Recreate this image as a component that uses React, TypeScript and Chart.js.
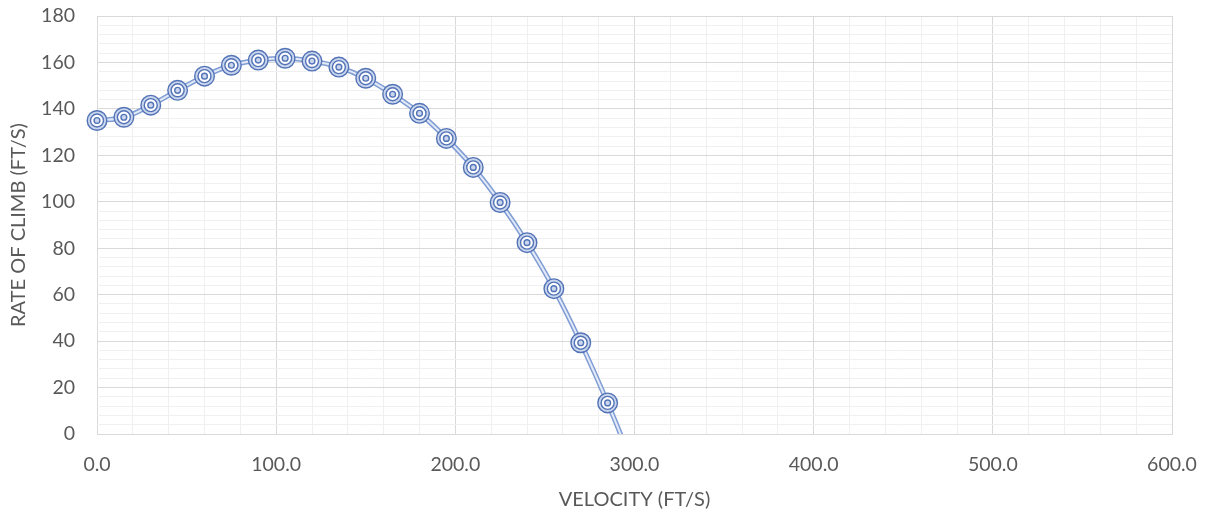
import React, { useEffect, useRef } from "react";
import { Chart, registerables } from "chart.js";

Chart.register(...registerables);

const velocity = [0, 15, 30, 45, 60, 75, 90, 105, 120, 135, 150, 165, 180, 195, 210, 225, 240, 255, 270, 285, 300];
const rateOfClimb = [135, 136.4, 141.6, 148, 154.1, 158.8, 161, 161.8, 160.6, 158, 153.2, 146.3, 138.1, 127.3, 114.8, 99.7, 82.4, 62.6, 39.3, 13.4, -15];

const xTitle = "VELOCITY (FT/S)";
const yTitle = "RATE OF CLIMB (FT/S)";
const xMin = 0, xMax = 600, xMinorStep = 20, xMajorStep = 100;
const yMin = 0, yMax = 180, yMinorStep = 4, yMajorStep = 20;

const TEXT = "#595959";
const FONT = "Lato, 'Liberation Sans', sans-serif";
const DARK = "#5373b6";

export default function App() {
  const ref = useRef<HTMLCanvasElement | null>(null);
  useEffect(() => {
    if (!ref.current) return;
    const pts = velocity.map((x, i) => ({ x, y: rateOfClimb[i] }));
    const isMajor = (v: number, step: number) => Math.abs(v / step - Math.round(v / step)) < 1e-6;
    const pClip = { left: 15, top: 15, right: 0, bottom: 0 };
    const chart = new Chart(ref.current, {
      type: "scatter",
      data: {
        datasets: [
          { data: pts, showLine: true, tension: 0.4, borderColor: "#7f9cd4", borderWidth: 5, pointRadius: 0, order: 5 },
          { data: pts, showLine: true, tension: 0.4, borderColor: "#e3eaf7", borderWidth: 2, pointRadius: 0, order: 4 },
          { data: pts, showLine: false, clip: pClip, pointRadius: 9.8, pointBorderWidth: 1.4, pointBorderColor: DARK, pointBackgroundColor: "#c9d6ee", order: 3 },
          { data: pts, showLine: false, clip: pClip, pointRadius: 6.5, pointBorderWidth: 1.4, pointBorderColor: DARK, pointBackgroundColor: "#ffffff", order: 2 },
          { data: pts, showLine: false, clip: pClip, pointRadius: 2.9, pointBorderWidth: 1.4, pointBorderColor: DARK, pointBackgroundColor: "#c9d6ee", order: 1 },
        ],
      },
      options: {
        responsive: false,
        animation: false,
        layout: { padding: { top: 16, right: 36, left: 0, bottom: 0 } },
        plugins: { legend: { display: false }, tooltip: { enabled: false } },
        scales: {
          x: {
            type: "linear",
            min: xMin,
            max: xMax,
            afterFit: (s: any) => { s.height = 83; },
            border: { color: "#d9d9d9", width: 1 },
            grid: {
              drawTicks: true,
              tickLength: 17,
              tickColor: "rgba(0,0,0,0)",
              color: (c: any) => (isMajor(c.tick.value, xMajorStep) ? "#d9d9d9" : "#f0f0f0"),
              lineWidth: 1,
            },
            ticks: {
              stepSize: xMinorStep,
              autoSkip: false,
              maxRotation: 0,
              padding: 2,
              color: TEXT,
              font: { family: FONT, size: 19.5 },
              callback: (v: any) => (isMajor(Number(v), xMajorStep) ? Number(v).toFixed(1) : ""),
            },
            title: { display: true, text: xTitle, color: TEXT, font: { family: FONT, size: 20 }, padding: { top: 0, bottom: 5 } },
          },
          y: {
            type: "linear",
            min: yMin,
            max: yMax,
            afterFit: (s: any) => { s.width = 97; },
            border: { display: false },
            grid: {
              drawTicks: true,
              tickLength: 20,
              tickColor: "rgba(0,0,0,0)",
              color: (c: any) => (isMajor(c.tick.value, yMajorStep) ? "#d9d9d9" : "#f0f0f0"),
              lineWidth: 1,
            },
            ticks: {
              stepSize: yMinorStep,
              autoSkip: false,
              maxTicksLimit: 100,
              padding: 2,
              color: TEXT,
              font: { family: FONT, size: 19.5 },
              callback: (v: any) => (isMajor(Number(v), yMajorStep) ? String(v) : ""),
            },
            title: { display: true, text: yTitle, color: TEXT, font: { family: FONT, size: 20 }, padding: { top: 7, bottom: 0 } },
          },
        },
      },
    } as any);
    return () => chart.destroy();
  }, []);
  return (
    <div style={{ position: "fixed", left: 0, top: 0, width: 1208, height: 517, background: "#fff" }}>
      <canvas ref={ref} width={1208} height={517} />
    </div>
  );
}
